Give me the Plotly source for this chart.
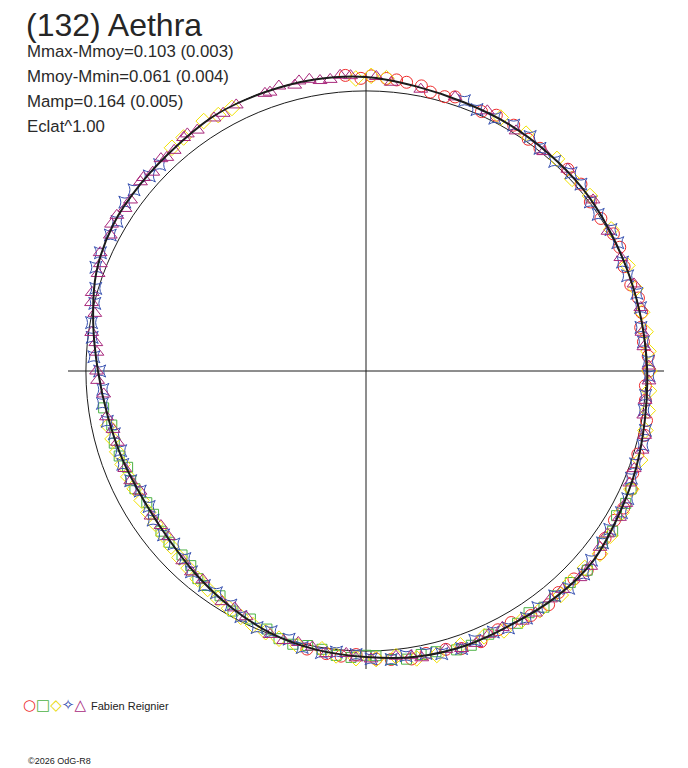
import plotly.graph_objects as go

# Courbe ajustee (rayon relatif, cercle de reference = 1.0) tous les 10 degres
fit_theta = [0, 10, 20, 30, 40, 50, 60, 70, 80, 90, 100, 110, 120, 130, 140, 150, 160, 170,
             180, 190, 200, 210, 220, 230, 240, 250, 260, 270, 280, 290, 300, 310, 320, 330,
             340, 350, 360]
fit_r = [1.004, 1.000, 1.000, 1.004, 1.011, 1.014, 1.018, 1.021, 1.032, 1.050, 1.057, 1.059,
         1.061, 1.050, 1.046, 1.043, 1.025, 0.989, 0.957, 0.936, 0.925, 0.918, 0.925, 0.946,
         0.971, 0.996, 1.011, 1.021, 1.036, 1.043, 1.044, 1.054, 1.057, 1.039, 1.025, 1.011,
         1.004]

# Sessions d'observation (phase en degres, rayon relatif)
circ_theta = [94, 89, 86, 82, 77, 72, 66, 59, 52, 45, 37, 29, 22, 15, 9, 3, 357, 350, 343,
              336, 329, 322, 315, 308, 300, 293, 286, 279, 272, 265, 258,
              91, 84, 79, 74, 63, 55, 41, 33, 26, 18, 12, 6, 0, 354, 347, 339, 332, 325,
              318, 311, 304, 297, 289, 282, 275, 268, 262]
circ_r = [1.058, 1.054, 1.047, 1.041, 1.022, 1.029, 1.014, 1.024, 1.009, 1.019, 1.003, 1.010,
          0.994, 1.007, 0.993, 1.009, 0.999, 1.017, 1.015, 1.037, 1.035, 1.060, 1.050, 1.059,
          1.037, 1.050, 1.034, 1.041, 1.029, 1.022, 1.015,
          1.045, 1.045, 1.037, 1.019, 1.025, 1.010, 1.017, 1.000, 1.008, 0.994, 1.006, 0.996,
          1.010, 1.003, 1.021, 1.020, 1.042, 1.042, 1.063, 1.048, 1.053, 1.037, 1.048, 1.031,
          1.034, 1.013, 1.019]

sq_theta = [188, 196, 202, 207, 214, 221, 228, 233, 237, 241, 249, 255, 261, 267, 272, 278,
            284, 291, 304, 307, 314, 327, 330, 333,
            192, 199, 205, 211, 218, 225, 231, 245, 252, 258, 264, 270, 275, 281, 288, 295,
            301, 310, 318, 324, 336]
sq_r = [0.946, 0.935, 0.918, 0.926, 0.915, 0.932, 0.935, 0.959, 0.957, 0.980, 0.987, 1.010,
        1.006, 1.024, 1.017, 1.039, 1.033, 1.049, 1.041, 1.056, 1.050, 1.050, 1.033, 1.041,
        0.928, 0.932, 0.927, 0.913, 0.929, 0.929, 0.954, 0.977, 1.005, 1.002, 1.021, 1.015,
        1.034, 1.031, 1.047, 1.037, 1.051, 1.048, 1.063, 1.044, 1.036]

dia_theta = [128, 123, 117, 111, 92, 86, 62, 48, 38, 22, 12, 4, 356, 348, 336, 326, 318, 311,
             302, 294, 284, 276, 268, 261, 252, 246, 240, 234, 228, 222, 216, 210, 204, 198,
             192,
             131, 120, 114, 89, 56, 43, 30, 17, 8, 0, 352, 342, 331, 322, 314, 306, 298, 289,
             280, 272, 264, 256, 249, 243, 237, 231, 225, 219, 213, 207, 201, 195]
dia_r = [1.058, 1.064, 1.054, 1.065, 1.045, 1.048, 1.025, 1.019, 1.015, 1.007, 1.008, 1.011,
         1.013, 1.020, 1.037, 1.052, 1.051, 1.060, 1.050, 1.037, 1.045, 1.024, 1.026, 1.006,
         1.005, 0.993, 0.978, 0.962, 0.947, 0.936, 0.929, 0.925, 0.929, 0.934, 0.941,
         1.056, 1.055, 1.066, 1.054, 1.022, 1.006, 1.011, 1.007, 1.008, 1.012, 1.016, 1.029,
         1.043, 1.060, 1.050, 1.056, 1.049, 1.036, 1.042, 1.029, 1.021, 1.011, 0.999, 0.985,
         0.970, 0.955, 0.942, 0.931, 0.927, 0.927, 0.931, 0.937]

star_theta = [70, 63, 55, 48, 41, 34, 27, 20, 13, 6, 359, 352, 345, 338, 331, 324, 317, 310,
              303, 296, 289, 282, 275, 268, 261, 254, 247, 240, 233, 226, 219, 212, 205, 198,
              191, 184, 177, 170, 163, 156, 149, 142, 135,
              67, 59, 52, 44, 37, 30, 23, 16, 9, 2, 355, 348, 341, 334, 327, 320, 313, 306,
              299, 292, 285, 278, 271, 264, 257, 250, 243, 236, 229, 222, 215, 208, 201, 194,
              187, 180, 173, 166, 159, 152, 145, 138]
star_r = [1.027, 1.013, 1.022, 1.007, 1.017, 1.000, 1.009, 0.994, 1.006, 0.996, 1.011, 1.003,
          1.024, 1.022, 1.043, 1.044, 1.063, 1.048, 1.052, 1.037, 1.048, 1.031, 1.034, 1.013,
          1.018, 0.996, 0.995, 0.965, 0.959, 0.931, 0.930, 0.913, 0.927, 0.921, 0.941, 0.942,
          0.973, 0.995, 1.009, 1.038, 1.037, 1.051, 1.042,
          1.014, 1.024, 1.009, 1.018, 1.003, 1.010, 0.995, 1.006, 0.994, 1.009, 1.002, 1.020,
          1.018, 1.040, 1.038, 1.051, 1.061, 1.044, 1.049, 1.037, 1.045, 1.027, 1.028, 1.009,
          1.013, 0.990, 0.984, 0.955, 0.950, 0.923, 0.928, 0.913, 0.930, 0.926, 0.948, 0.951,
          0.985, 0.998, 1.033, 1.034, 1.051, 1.041]

tri_theta = [93, 97, 101, 104, 107, 110, 113, 116, 119, 122, 125, 128, 131, 134, 137, 140,
             144, 148, 152, 156, 160, 164, 168, 172, 176, 180, 185, 190, 196, 202, 208, 214,
             220, 226, 232, 238, 244, 250, 256, 262, 266, 271, 276, 281, 286, 292, 298, 305,
             312, 319, 326, 333, 340, 347, 354, 1, 8, 18, 30, 45, 58, 72, 85,
             95, 99, 103, 109, 115, 121, 127, 133, 139, 146, 150, 158, 166, 174, 182, 193,
             205, 217, 229, 241, 253, 259, 268, 279, 289, 295, 302, 309, 316, 323, 330, 337,
             344, 351, 358, 5, 13, 24, 37, 51, 65, 79, 88]
tri_r = [1.056, 1.049, 1.061, 1.052, 1.064, 1.055, 1.066, 1.057, 1.052, 1.065, 1.050, 1.058,
         1.044, 1.054, 1.041, 1.051, 1.039, 1.049, 1.034, 1.039, 1.018, 1.017, 0.990, 0.989,
         0.963, 0.962, 0.940, 0.941, 0.923, 0.929, 0.914, 0.926, 0.920, 0.942, 0.946, 0.971,
         0.976, 1.001, 0.999, 1.019, 1.011, 1.028, 1.024, 1.043, 1.034, 1.049, 1.037, 1.055,
         1.049, 1.063, 1.040, 1.041, 1.019, 1.021, 1.002, 1.010, 0.995, 1.006, 0.998, 1.019,
         1.011, 1.029, 1.035,
         1.060, 1.050, 1.063, 1.053, 1.067, 1.054, 1.060, 1.043, 1.053, 1.038, 1.049, 1.023,
         1.010, 0.970, 0.959, 0.927, 0.927, 0.917, 0.950, 0.967, 1.006, 1.004, 1.025, 1.029,
         1.048, 1.037, 1.053, 1.047, 1.062, 1.046, 1.045, 1.023, 1.025, 1.004, 1.011, 0.996,
         1.007, 0.996, 1.015, 1.008, 1.025, 1.025, 1.052]

ref_r = 1.0          # cercle de magnitude moyenne
r_max = 1.064        # bord du repere

title = "(132) Aethra"
stats_lines = ["Mmax-Mmoy=0.103 (0.003)", "Mmoy-Mmin=0.061 (0.004)",
               "Mamp=0.164 (0.005)", "Eclat^1.00"]
observer = "Fabien Reignier"
footer = "\u00a92026 OdG-R8"

# la page a une marge de 8 px : figure un peu plus petite, positions decalees
OFF = 8
W, H = 688 - OFF, 768 - OFF
CX, CY, RAD = 366 - OFF, 371 - OFF, 298

FONT = "Liberation Sans, Arial, sans-serif"


def px_x(x):
    return (x - OFF) / W


def px_y(y):
    return 1 - (y - OFF) / H


def main():
    fig = go.Figure()

    sessions = [
        (circ_theta, circ_r, "circle-open", "#ee2b2b", 12),
        (sq_theta, sq_r, "square-open", "#4cb244", 10),
        (dia_theta, dia_r, "diamond-open", "#f2e200", 12),
        (star_theta, star_r, "star-square-open", "#3650b0", 11),
        (tri_theta, tri_r, "triangle-up-open", "#a8287c", 12),
    ]
    for th, rr, sym, col, sz in sessions:
        fig.add_trace(go.Scatterpolar(
            r=rr, theta=th, mode="markers", cliponaxis=False,
            marker=dict(symbol=sym, size=sz, color=col, line=dict(width=1, color=col)),
            showlegend=False, hoverinfo="skip"
        ))

    # courbe ajustee par dessus
    fig.add_trace(go.Scatterpolar(
        r=fit_r, theta=fit_theta, mode="lines", cliponaxis=False,
        line=dict(color="#1c1c1c", width=2, shape="spline"),
        showlegend=False, hoverinfo="skip"
    ))

    fig.update_layout(
        width=W, height=H,
        margin=dict(l=0, r=0, t=0, b=0),
        paper_bgcolor="white",
        plot_bgcolor="white",
        polar=dict(
            domain=dict(x=[(CX - RAD) / W, (CX + RAD) / W],
                        y=[(H - CY - RAD) / H, (H - CY + RAD) / H]),
            bgcolor="white",
            radialaxis=dict(range=[0, r_max], tickvals=[ref_r], showticklabels=False,
                            ticks="", showline=False, showgrid=True,
                            gridcolor="#1c1c1c", gridwidth=1),
            angularaxis=dict(tickvals=[0, 90, 180, 270], showticklabels=False, ticks="",
                             showline=False, showgrid=True, gridcolor="#1c1c1c",
                             gridwidth=1, direction="counterclockwise", rotation=0),
        ),
    )

    ann = [dict(text=title, x=px_x(25), y=px_y(25), borderpad=0,
                font=dict(size=32, color="#262626"))]
    for i, s in enumerate(stats_lines):
        ann.append(dict(text=s, x=px_x(25), y=px_y(51 + 25 * i),
                        font=dict(size=16.8, color="#2a2a2a")))

    glyphs = ("<span style='color:#ee2b2b'>\u25cb</span>"
              "<span style='color:#4cb244'>\u25a1</span>"
              "<span style='color:#e8d800'>\u25c7</span>"
              "<span style='color:#3650b0'>\u2727</span>"
              "<span style='color:#a8287c'>\u25b3</span>")
    ann.append(dict(text=glyphs, x=px_x(21), y=px_y(705),
                    font=dict(size=15, family="DejaVu Sans")))
    ann.append(dict(text=observer, x=px_x(89), y=px_y(706),
                    font=dict(size=11, color="#222222")))
    ann.append(dict(text=footer, x=px_x(26), y=px_y(761),
                    font=dict(size=9, color="#222222")))

    for a in ann:
        a.update(xref="paper", yref="paper", xanchor="left", yanchor="middle",
                 showarrow=False)
        a["font"].setdefault("family", FONT)
    fig.update_layout(annotations=ann)

    fig.write_html("out.html")


if __name__ == "__main__":
    main()
